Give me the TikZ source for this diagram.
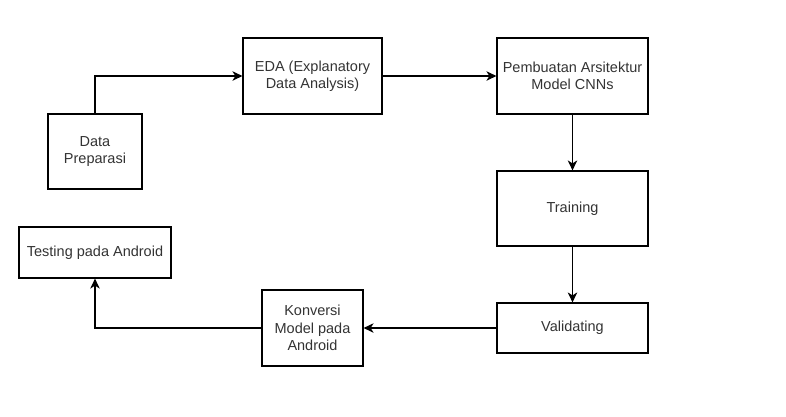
\documentclass[tikz,border=0pt]{standalone}
\usepackage{fontspec}
\setmainfont{Liberation Sans}
\usetikzlibrary{arrows.meta}
\begin{document}
\begin{tikzpicture}[x=1pt,y=-1pt,
  box/.style={draw, line width=1.2pt, inner sep=0pt, align=center,
    font=\fontsize{14.5}{17.5}\selectfont, text=black!80},
  conn/.style={line width=1.2pt, -{Stealth[length=10pt,width=9.5pt,inset=3pt]}}]
\useasboundingbox (0,0) rectangle (786,416);
\node[box, minimum width=94pt, minimum height=75pt] (dp) at (95,151.5) {Data\\Preparasi};
\node[box, minimum width=139pt, minimum height=76pt] (eda) at (312.5,76) {EDA (Explanatory\\Data Analysis)};
\node[box, minimum width=151pt, minimum height=76pt] (pa) at (572.5,76) {Pembuatan Arsitektur\\Model CNNs};
\node[box, minimum width=151pt, minimum height=75pt] (tr) at (572.5,208.5) {Training};
\node[box, minimum width=151pt, minimum height=50pt] (va) at (572.5,328) {Validating};
\node[box, minimum width=101pt, minimum height=76pt] (kv) at (312.5,328) {Konversi\\Model pada\\Android};
\node[box, minimum width=152pt, minimum height=51pt] (te) at (95,252.5) {Testing pada Android};
\draw[conn] (dp.north) |- (eda.west);
\draw[conn] (eda.east) -- (pa.west);
\draw[conn] (pa.south) -- (tr.north);
\draw[conn] (tr.south) -- (va.north);
\draw[conn] (va.west) -- (kv.east);
\draw[conn] (kv.west) -| (te.south);
\end{tikzpicture}
\end{document}
